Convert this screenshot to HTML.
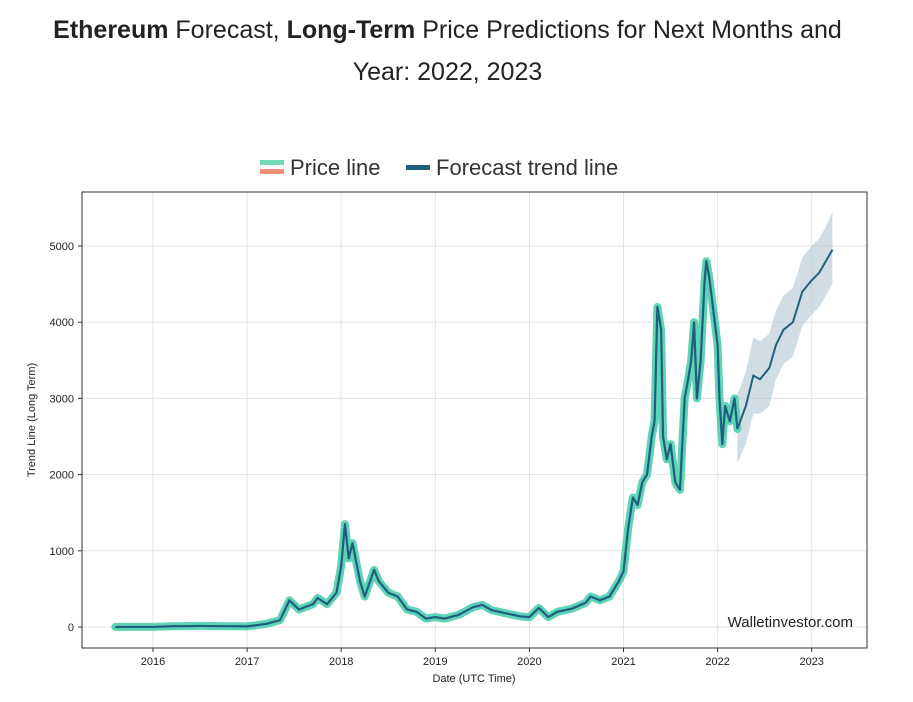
<!DOCTYPE html>
<html><head><meta charset="utf-8"><style>
body{margin:0;background:#fff;width:913px;height:702px;overflow:hidden;font-family:"Liberation Sans",sans-serif}
#title{position:absolute;left:0;top:9px;width:895px;text-align:center;font-size:25px;line-height:42px;color:#222}
</style></head><body>
<div id="title"><b>Ethereum</b> Forecast, <b>Long-Term</b> Price Predictions for Next Months and<br>Year: 2022, 2023</div>
<svg id="c" width="913" height="702" style="position:absolute;left:0;top:0"></svg>
<script>
const priceDates=[2015.6,2016.0,2016.2,2016.5,2017.0,2017.2,2017.35,2017.45,2017.55,2017.7,2017.75,2017.85,2017.95,2018.0,2018.04,2018.08,2018.12,2018.2,2018.25,2018.35,2018.4,2018.5,2018.6,2018.7,2018.8,2018.9,2019.0,2019.1,2019.25,2019.4,2019.5,2019.6,2019.75,2019.9,2020.0,2020.1,2020.2,2020.3,2020.45,2020.6,2020.65,2020.75,2020.85,2020.95,2021.0,2021.05,2021.1,2021.15,2021.2,2021.25,2021.3,2021.33,2021.36,2021.4,2021.42,2021.46,2021.5,2021.55,2021.6,2021.65,2021.68,2021.72,2021.75,2021.78,2021.82,2021.86,2021.88,2021.91,2021.94,2021.97,2022.0,2022.02,2022.05,2022.08,2022.13,2022.18,2022.21];
const priceValues=[1,1,10,14,8,40,90,350,230,300,380,300,450,800,1350,900,1100,600,400,750,600,450,400,230,200,110,130,110,160,260,290,220,180,140,130,250,130,200,240,320,400,350,400,600,730,1300,1700,1600,1900,2000,2500,2700,4200,3900,2500,2200,2400,1900,1800,3000,3200,3500,4000,3000,3500,4500,4800,4600,4300,4000,3700,3000,2400,2900,2700,3000,2600];
const fcDates=[2022.21,2022.3,2022.38,2022.45,2022.55,2022.62,2022.7,2022.8,2022.9,2023.0,2023.08,2023.15,2023.22];
const fcValues=[2600,2900,3300,3250,3400,3700,3900,4000,4400,4550,4650,4800,4950];
const fcLower=[2150,2400,2800,2800,2900,3250,3450,3550,3950,4100,4200,4350,4500];
const fcUpper=[3050,3350,3800,3750,3850,4150,4350,4450,4850,5000,5100,5250,5450];
const yTicks=[0,1000,2000,3000,4000,5000];
const xTicks=[2016,2017,2018,2019,2020,2021,2022,2023];
const L=82,R=867,T=192,B=648;
const X=d=>153+(d-2016)*94.1, Y=v=>627-v*0.0762;
const svg=document.getElementById('c'),NS='http://www.w3.org/2000/svg';
function mk(t,a,p){const e=document.createElementNS(NS,t);for(const k in a)e.setAttribute(k,a[k]);(p||svg).appendChild(e);return e;}
yTicks.forEach(v=>{const g=mk('line',{x1:L,x2:R,y1:Y(v),y2:Y(v),stroke:'#e3e3e3'});

mk('line',{x1:L-4,x2:L,y1:Y(v),y2:Y(v),stroke:'#333'});
const t=mk('text',{x:L-8,y:Y(v)+4,'text-anchor':'end','font-size':11,fill:'#222'});t.textContent=v;
});
xTicks.forEach(d=>{const g=mk('line',{x1:X(d),x2:X(d),y1:T,y2:B,stroke:'#e3e3e3'});

mk('line',{x1:X(d),x2:X(d),y1:B,y2:B+4,stroke:'#333'});
const t=mk('text',{x:X(d),y:B+17,'text-anchor':'middle','font-size':11,fill:'#222'});t.textContent=d;
});
let band='M'+fcDates.map((d,i)=>X(d)+','+Y(fcUpper[i])).join('L')+'L'+fcDates.map((d,i)=>X(d)+','+Y(fcLower[i])).reverse().join('L')+'Z';
const b=mk('path',{d:band,fill:'#b9cbd6',opacity:0.65});

const pp=priceDates.map((d,i)=>X(d)+','+Y(priceValues[i])).join(' ');
const p1=mk('polyline',{points:pp,fill:'none',stroke:'#5fd3b5','stroke-width':8,'stroke-linejoin':'round','stroke-linecap':'round'});

const p2=mk('polyline',{points:pp,fill:'none',stroke:'#1d5f7c','stroke-width':2.2,'stroke-linejoin':'round'});

const f=mk('polyline',{points:fcDates.map((d,i)=>X(d)+','+Y(fcValues[i])).join(' '),fill:'none',stroke:'#22607e','stroke-width':2});

const fr=mk('rect',{x:L,y:T,width:R-L,height:B-T,fill:'none',stroke:'#333','stroke-width':1});

function txt(s,a,n){const t=mk('text',a);t.textContent=s;return t;}
txt('Walletinvestor.com',{x:853,y:627,'text-anchor':'end','font-size':15,fill:'#222'},'watermark');
txt('Date (UTC Time)',{x:474,y:682,'text-anchor':'middle','font-size':11,fill:'#222'},'x-axis-title');
txt('Trend Line (Long Term)',{x:0,y:0,'text-anchor':'middle','font-size':11,fill:'#222',transform:'translate(35,420) rotate(-90)'},'y-axis-title');
mk('rect',{x:260,y:160,width:24,height:5,fill:'#6fd9ba'});mk('rect',{x:260,y:169,width:24,height:5,fill:'#f0907a'});
txt('Price line',{x:290,y:175,'font-size':22,fill:'#333'},'legend-price-line');
mk('rect',{x:406,y:165,width:24,height:5,fill:'#1d5f7c'});
txt('Forecast trend line',{x:436,y:175,'font-size':22,fill:'#333'},'legend-forecast-line');
</script>
</body></html>
